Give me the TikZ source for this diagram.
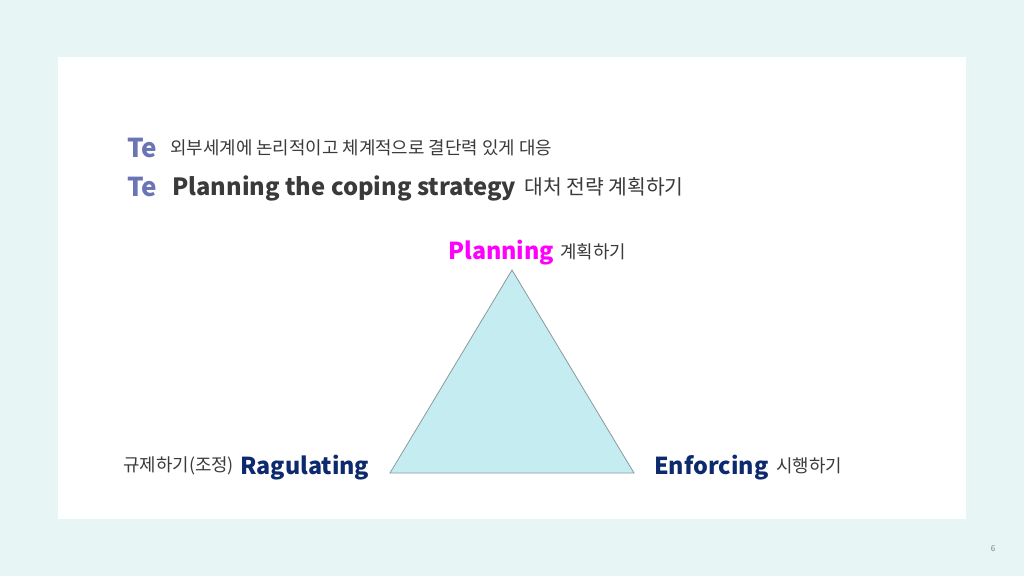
\documentclass[tikz,border=0pt]{standalone}
\usepackage{fontspec}
\setmainfont{Noto Sans CJK KR}
\definecolor{bgc}{HTML}{E8F5F5}
\definecolor{tecol}{HTML}{6B74B5}
\definecolor{txt}{HTML}{3A3A3A}
\definecolor{navy}{HTML}{0D2A6E}
\definecolor{mag}{HTML}{FF00FF}
\definecolor{tri}{HTML}{C5ECF0}
\definecolor{triline}{HTML}{8A9A9C}
\tikzset{
  lbl/.style={anchor=west, inner sep=0pt, text=txt},
  kr/.style={lbl, font=\fontsize{13.4}{15}\selectfont},
  big/.style={lbl, font=\fontsize{17.5}{19}\selectfont\bfseries},
  te/.style={anchor=west, inner sep=0pt, text=tecol, font=\fontsize{19.5}{21}\selectfont\bfseries},
}
\begin{document}
\begin{tikzpicture}[x=0.75pt,y=-0.75pt]
\fill[bgc] (0,0) rectangle (1024,576);
\useasboundingbox (0,0) rectangle (1024,576);
\fill[white] (58,57) rectangle (966,519);
\node[te] (te1) at (127,148) {Te};
\node[kr] (l1) at (170,148) {외부세계에 논리적이고 체계적으로 결단력 있게 대응};
\node[te] (te2) at (127,187) {Te};
\node[big, font=\fontsize{17.8}{19}\selectfont\bfseries] (l2) at (172,188) {Planning the coping strategy};
\node[kr, font=\fontsize{15.3}{17}\selectfont] (l2k) at (524,187) {대처 전략 계획하기};
\coordinate (A) at (512,270);
\coordinate (B) at (390,473);
\coordinate (C) at (634,473);
\draw[fill=tri, draw=triline, line width=0.6pt] (A) -- (B) -- (C) -- cycle;
\node[big, text=mag] (pl) at (448,252.5) {Planning};
\node[kr] (plk) at (560,251.5) {계획하기};
\node[kr] (rgk) at (123,466) {규제하기(조정)};
\node[big, text=navy] (rg) at (240,467.5) {Ragulating};
\node[big, text=navy] (en) at (654,467.5) {Enforcing};
\node[kr] (enk) at (776,466) {시행하기};
\node[inner sep=0pt, text=gray, font=\fontsize{6}{7}\selectfont] (pg) at (993,549) {6};
\end{tikzpicture}
\end{document}
